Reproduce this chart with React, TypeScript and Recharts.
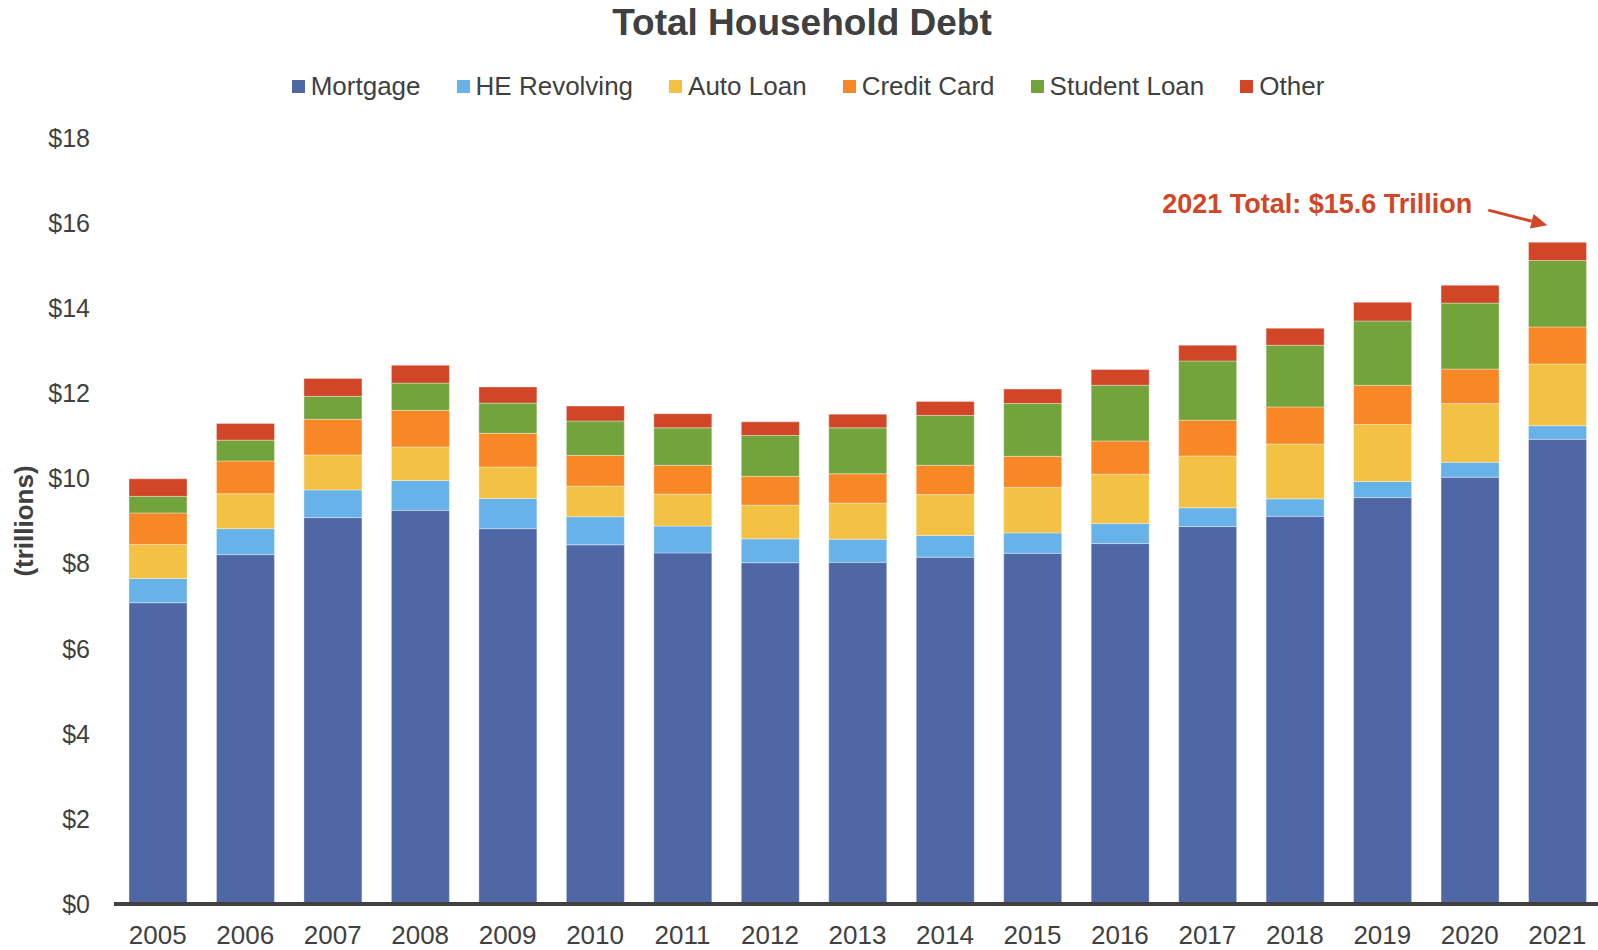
import React from "react";
import { BarChart, Bar, XAxis, YAxis, Legend, ReferenceDot } from "recharts";

const years = ["2005", "2006", "2007", "2008", "2009", "2010", "2011", "2012", "2013", "2014", "2015", "2016", "2017", "2018", "2019", "2020", "2021"];
const mortgage = [7.08, 8.21, 9.08, 9.25, 8.82, 8.44, 8.25, 8.02, 8.03, 8.15, 8.24, 8.47, 8.87, 9.11, 9.55, 10.03, 10.92];
const heRevolving = [0.57, 0.61, 0.65, 0.7, 0.71, 0.66, 0.63, 0.56, 0.54, 0.51, 0.48, 0.47, 0.44, 0.41, 0.38, 0.35, 0.32];
const autoLoan = [0.8, 0.82, 0.82, 0.79, 0.74, 0.72, 0.75, 0.79, 0.85, 0.96, 1.07, 1.16, 1.22, 1.29, 1.34, 1.38, 1.45];
const creditCard = [0.74, 0.77, 0.84, 0.86, 0.79, 0.72, 0.68, 0.68, 0.69, 0.69, 0.73, 0.78, 0.84, 0.87, 0.92, 0.81, 0.87];
const studentLoan = [0.39, 0.49, 0.54, 0.64, 0.71, 0.81, 0.88, 0.96, 1.08, 1.17, 1.24, 1.31, 1.39, 1.45, 1.51, 1.55, 1.56];
const other = [0.41, 0.39, 0.42, 0.42, 0.38, 0.35, 0.33, 0.32, 0.32, 0.33, 0.34, 0.37, 0.37, 0.4, 0.44, 0.42, 0.43];
const yTicks = [0, 2, 4, 6, 8, 10, 12, 14, 16, 18];

const SERIES = [
  { key: "Mortgage", color: "#4F67A5" },
  { key: "HE Revolving", color: "#67B2E8" },
  { key: "Auto Loan", color: "#F3C244" },
  { key: "Credit Card", color: "#F88825" },
  { key: "Student Loan", color: "#72A43B" },
  { key: "Other", color: "#D14626" },
];

const data = years.map((year, i) => ({
  year,
  Mortgage: mortgage[i],
  "HE Revolving": heRevolving[i],
  "Auto Loan": autoLoan[i],
  "Credit Card": creditCard[i],
  "Student Loan": studentLoan[i],
  Other: other[i],
}));

const TEXT = "#404040";
const RED = "#D14626";

const renderLegend = () => (
  <div style={{ display: "flex", justifyContent: "center", alignItems: "center", width: 1616 }}>
    {SERIES.map((s, i) => (
      <div key={s.key} style={{ display: "flex", alignItems: "center", marginRight: i < SERIES.length - 1 ? 36 : 0 }}>
        <span style={{ width: 13, height: 13, background: s.color, marginRight: 6, display: "inline-block" }} />
        <span style={{ fontSize: 26, lineHeight: "26px", color: TEXT }}>{s.key}</span>
      </div>
    ))}
  </div>
);

// annotation drawn relative to the 2021 total
const Callout = (props: any) => {
  const { cx, cy } = props;
  const sx = cx - 69, sy = cy - 30;
  const tx = cx - 10, ty = cy - 15;
  const dx = tx - sx, dy = ty - sy;
  const len = Math.sqrt(dx * dx + dy * dy);
  const ux = dx / len, uy = dy / len;
  const bx = tx - 16 * ux, by = ty - 16 * uy;
  const nx = -uy * 7.5, ny = ux * 7.5;
  return (
    <g>
      <text x={cx - 85} y={cy - 27} textAnchor="end" fontSize={27} fontWeight="bold" fill={RED}>
        2021 Total: $15.6 Trillion
      </text>
      <line x1={sx} y1={sy} x2={bx} y2={by} stroke={RED} strokeWidth={3} />
      <polygon points={`${tx},${ty} ${bx + nx},${by + ny} ${bx - nx},${by - ny}`} fill={RED} />
    </g>
  );
};

export default function App() {
  return (
    <div style={{ position: "fixed", left: 0, top: 0, width: 1598, height: 950, overflow: "hidden", background: "#fff", fontFamily: "'Liberation Sans', Arial, sans-serif" }}>
      <div style={{ position: "absolute", top: 5, left: 0, width: 1604, textAlign: "center", fontSize: 37, lineHeight: "36px", fontWeight: "bold", color: TEXT }}>
        Total Household Debt
      </div>
      <BarChart width={1601} height={950} data={data} margin={{ top: 138, right: 0, bottom: 0, left: 0 }}>
        <XAxis
          dataKey="year"
          height={46}
          axisLine={{ stroke: TEXT, strokeWidth: 4 }}
          tickLine={false}
          tickSize={6}
          tickMargin={16}
          tick={{ fontSize: 26, fill: TEXT }}
          interval={0}
        />
        <YAxis
          width={114}
          domain={[0, 18]}
          ticks={yTicks}
          axisLine={false}
          tickLine={false}
          tickSize={6}
          tickMargin={18}
          tickFormatter={(v: number) => `$${v}`}
          tick={{ fontSize: 25, fill: TEXT }}
          label={{ value: "(trillions)", angle: -90, position: "insideLeft", offset: 24, style: { textAnchor: "middle", fontSize: 26, fontWeight: "bold", fill: TEXT } }}
        />
        <Legend verticalAlign="middle" align="center" wrapperStyle={{ top: 73, left: 0, width: 1616 }} content={renderLegend} />
        {SERIES.map((s) => (
          <Bar key={s.key} dataKey={s.key} stackId="debt" fill={s.color} barSize={58} stroke="#ffffff" strokeOpacity={0.35} strokeWidth={1} isAnimationActive={false} />
        ))}
        <ReferenceDot x="2021" y={15.6} ifOverflow="visible" shape={Callout} />
      </BarChart>
    </div>
  );
}
